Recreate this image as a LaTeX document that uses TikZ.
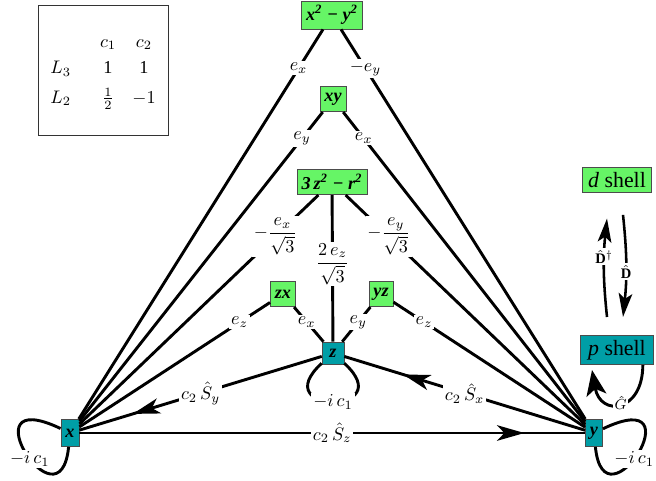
\documentclass[tikz,border=0pt]{standalone}
\usepackage{amsmath}
\usepackage{fontspec}
\setmainfont{Liberation Serif}
\usepackage{xcolor}
\usetikzlibrary{arrows.meta}
\usetikzlibrary{decorations.markings}
\definecolor{dgreen}{RGB}{102,245,102}
\definecolor{pteal}{RGB}{0,158,166}

\begin{document}
\begin{tikzpicture}[x=0.55pt,y=-0.55pt]
    \tikzset{orb/.style={draw=black!70,fill=dgreen,font=\bfseries\itshape,inner sep=2.5pt,minimum height=14pt}}
    \tikzset{porb/.style={orb,fill=pteal}}
    \tikzset{edge/.style={line width=1.6pt}}
    \tikzset{lab/.style={fill=white,inner sep=1pt}}
    \tikzset{tipat/.style={postaction={decorate,decoration={markings,mark=at position #1 with {\arrow{Stealth[length=15pt,width=8.5pt,inset=4pt]}}}}}}
    \useasboundingbox (0,0) rectangle (656,481);

    % coefficient table
    \node[draw=black!80,minimum size=71.5pt] (tab) at (103,70)
      {\renewcommand{\arraystretch}{1.2}%
       \begin{tabular}{@{}l@{\hspace{16pt}}c@{\hspace{9pt}}c@{}}
         & $c_1$ & $c_2$\\
         $L_3$ & 1 & 1\\[2pt]
         $L_2$ & $\frac{1}{2}$ & $-1$
       \end{tabular}};

    % orbitals
    \node[orb] (x2y2) at (332,15) {x\textsuperscript{2} − y\textsuperscript{2}};
    \node[orb] (xy) at (333,99) {xy};
    \node[orb] (tz) at (332,182) {3\,z\textsuperscript{2} − r\textsuperscript{2}};
    \node[orb] (zx) at (283,294) {zx};
    \node[orb] (yz) at (381,294) {yz};
    \node[porb,minimum size=12pt] (z) at (333,353) {z};
    \node[porb,minimum height=15pt] (x) at (70,433) {x};
    \node[porb,minimum height=15pt] (y) at (594,433) {y};
    \node[orb,font=\normalfont\large,minimum width=38pt] (dsh) at (617,180) {\textit{d}\ shell};
    \node[porb,font=\normalfont\large,minimum width=40pt] (psh) at (617,350) {\textit{p}\ shell};

    % d-shell couplings
    \draw[edge] (x) -- node[lab,pos=.82] {$-\dfrac{e_x}{\sqrt{3}}$} (tz);
    \draw[edge] (y) -- node[lab,pos=.82] {$-\dfrac{e_y}{\sqrt{3}}$} (tz);
    \draw[edge] (x) -- node[lab,pos=.9] {$e_x$} (x2y2);
    \draw[edge] (y) -- node[lab,pos=.9] {$-e_y$} (x2y2);
    \draw[edge] (x) -- node[lab,pos=.915] {$e_y$} (xy);
    \draw[edge] (y) -- node[lab,pos=.915] {$e_x$} (xy);
    \draw[edge] (x) -- node[lab,pos=.84] {$e_z$} (zx);
    \draw[edge] (y) -- node[lab,pos=.84] {$e_z$} (yz);
    \draw[edge] (zx) -- node[lab,pos=.43] {$e_x$} (z);
    \draw[edge] (yz) -- node[lab,pos=.43] {$e_y$} (z);
    \draw[edge] (tz) -- node[lab,pos=.47] {$\dfrac{2\,e_z}{\sqrt{3}}$} (z);

    % spin-orbit
    \draw[edge,tipat=.78] (z) -- node[lab,pos=.5] {$c_2\,\hat{S}_y$} (x);
    \draw[edge,tipat=.756] (y) -- node[lab,pos=.5] {$c_2\,\hat{S}_x$} (z);
    \draw[edge,tipat=.88] (x) -- node[lab,pos=.5] {$c_2\,\hat{S}_z$} (y);
    \draw[edge] (x) .. controls +(-105,-50) and +(-10,100) .. node[lab,pos=.55] {$-i\,c_1$} (x);
    \draw[edge] (y) .. controls +(105,-50) and +(10,100) .. node[lab,pos=.55] {$-i\,c_1$} (y);
    \draw[edge] (z) .. controls +(-68,62) and +(68,62) .. node[lab,pos=.5] {$-i\,c_1$} (z);

    % shells
    \coordinate (gtip) at (592,370);
    \draw[edge,-{Stealth[length=14pt,width=11pt,inset=3.5pt]}] ([xshift=-6pt]psh.south east)
      to[out=-90,in=-80,looseness=2.4] node[lab,pos=.5,font=\footnotesize] {$\hat{G}$} (gtip);
    \draw[line width=1.4pt,-{Stealth[length=13pt,width=7.5pt,inset=3pt]}] ([xshift=-5.5pt,yshift=10pt]psh.north)
      to[bend left=6] node[lab,pos=.62,font=\footnotesize] {$\hat{\mathbf{D}}^{\dagger}$} ([xshift=-5.5pt,yshift=-14pt]dsh.south);
    \draw[line width=1.4pt,-{Stealth[length=13pt,width=7.5pt,inset=3pt]}] ([xshift=3.3pt,yshift=-12pt]dsh.south)
      to[bend left=6] node[lab,pos=.56,font=\footnotesize] {$\hat{\mathbf{D}}$} ([xshift=3.3pt,yshift=10pt]psh.north);
\end{tikzpicture}
\end{document}
